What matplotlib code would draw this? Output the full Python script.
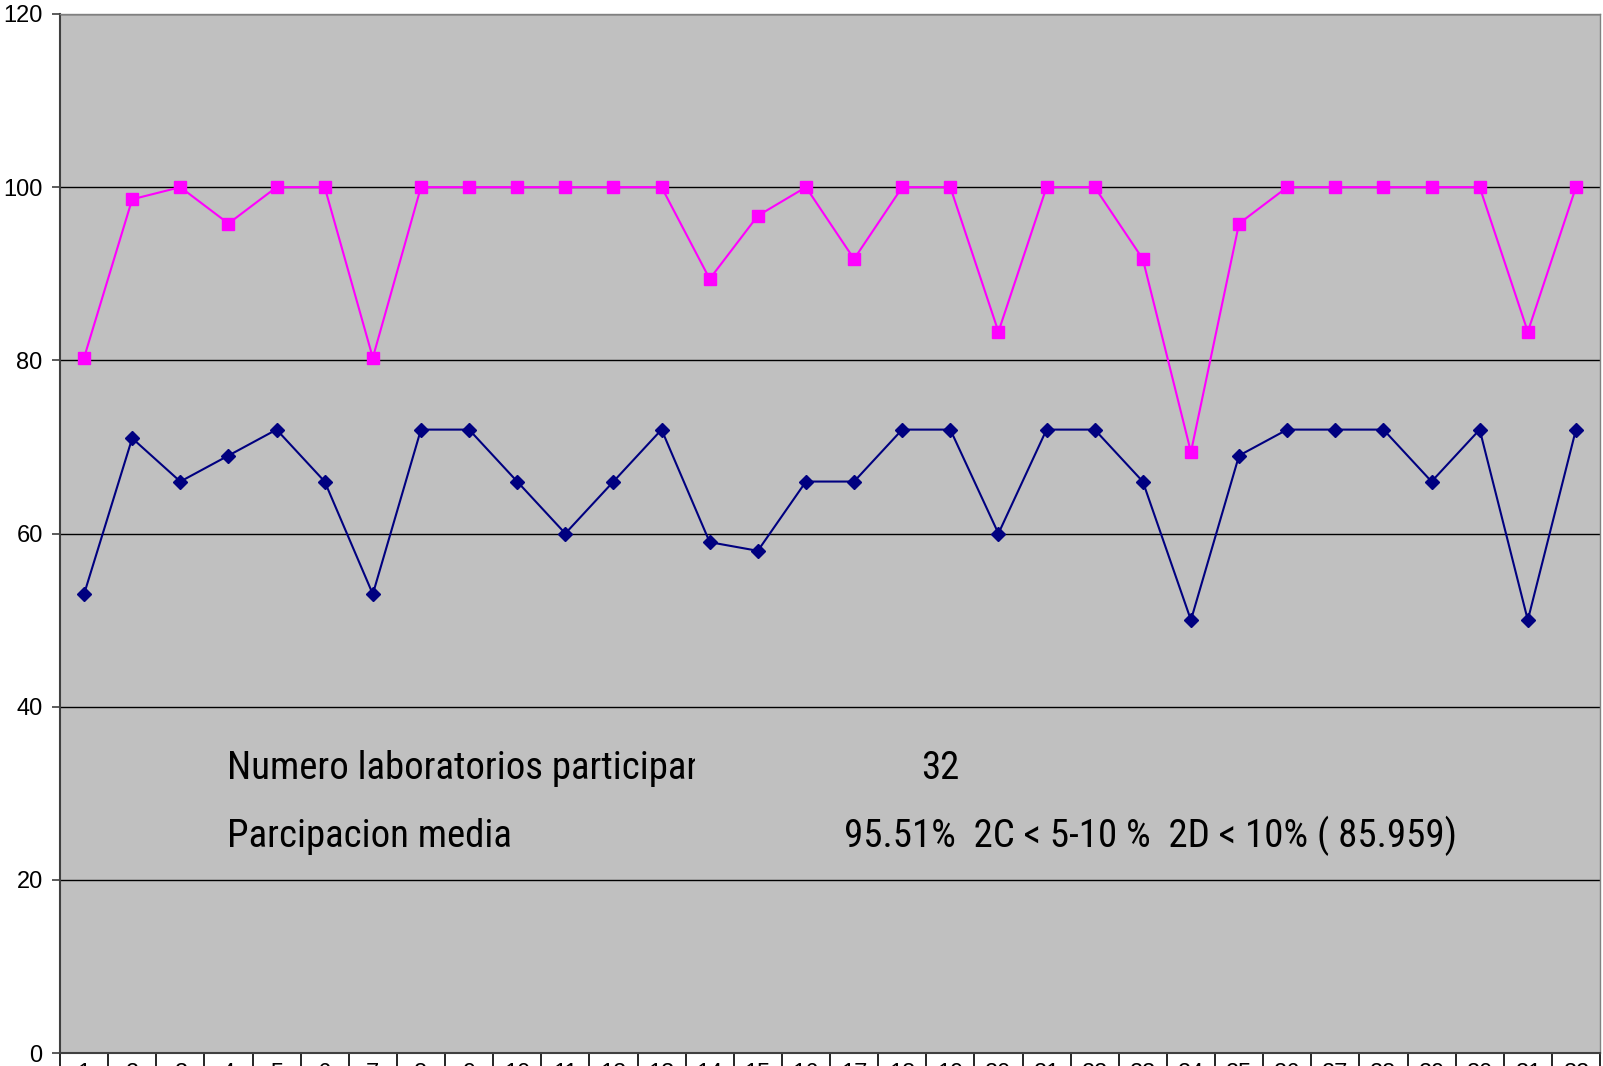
import matplotlib
matplotlib.use("Agg")
import matplotlib.pyplot as plt
from matplotlib.patches import Rectangle

# Data
labs = list(range(1, 33))
blue_vals = [53, 71, 66, 69, 72, 66, 53, 72, 72, 66, 60, 66, 72, 59, 58, 66,
             66, 72, 72, 60, 72, 72, 66, 50, 69, 72, 72, 72, 66, 72, 50, 72]
pink_vals = [80.3, 98.6, 100, 95.8, 100, 100, 80.3, 100, 100, 100, 100, 100,
             100, 89.4, 96.7, 100, 91.7, 100, 100, 83.3, 100, 100, 91.7, 69.4,
             95.8, 100, 100, 100, 100, 100, 83.3, 100]
y_ticks = [0, 20, 40, 60, 80, 100, 120]

W, H = 1603, 1066
fig = plt.figure(figsize=(W / 100, H / 100), dpi=100)
ax = fig.add_axes([60 / W, 1 - 1053 / H, 1540 / W, (1053 - 14) / H])
ax.set_facecolor("#C0C0C0")

x = list(range(len(labs)))
ax.plot(x, pink_vals, color="#FF00FF", lw=1.5, marker="s", ms=8,
        mec="#FF00FF", mfc="#FF00FF", zorder=3, clip_on=False)
ax.plot(x, blue_vals, color="#000080", lw=1.5, marker="D", ms=7.5,
        mec="#000080", mfc="#000080", zorder=3, clip_on=False)

ax.set_xlim(-0.5, len(labs) - 0.5)
ax.set_ylim(0, 120)
ax.set_yticks(y_ticks)
ax.yaxis.grid(True, color="black", lw=1.0)
ax.set_axisbelow(True)

ax.set_xticks(x)
ax.set_xticklabels([str(v) for v in labs])
ax.set_xticks([i + 0.5 for i in range(-1, len(labs))], minor=True)
ax.tick_params(axis="x", which="major", length=0, pad=7, labelsize=17)
ax.tick_params(axis="x", which="minor", length=20, width=1.2, color="black")
ax.tick_params(axis="y", length=6, width=1.2, color="#404040", labelsize=17, pad=6.5)
for lbl in ax.get_yticklabels() + ax.get_xticklabels():
    lbl.set_fontfamily(["Liberation Sans", "DejaVu Sans"])

for side in ["left", "bottom"]:
    ax.spines[side].set_color("#404040")
    ax.spines[side].set_linewidth(1.5)
for side in ["top", "right"]:
    ax.spines[side].set_color("#808080")
    ax.spines[side].set_linewidth(1.0)

# condensed face, like the Arial Narrow of the original
narrow = ["Liberation Sans Narrow", "Roboto Condensed", "Archivo Narrow",
          "Liberation Sans"]
fs = 28
t1 = ax.text(2.97, 31.7, "Numero laboratorios participantes", fontsize=fs,
             family=narrow, va="baseline", ha="left", clip_on=True)
# the original cell cuts this label short
clip = Rectangle((-0.5, 0), 13.2, 120, transform=ax.transData, visible=False)
ax.add_patch(clip)
t1.set_clip_path(clip)
ax.text(17.8, 31.7, "32", fontsize=fs, family=narrow, va="baseline", ha="center")
ax.text(2.97, 23.8, "Parcipacion media", fontsize=fs, family=narrow,
        va="baseline", ha="left")
ax.text(15.8, 23.8, "95.51%  2C < 5-10 %  2D < 10% ( 85.959)", fontsize=fs,
        family=narrow, va="baseline", ha="left")

fig.savefig("out.png", dpi=100)
